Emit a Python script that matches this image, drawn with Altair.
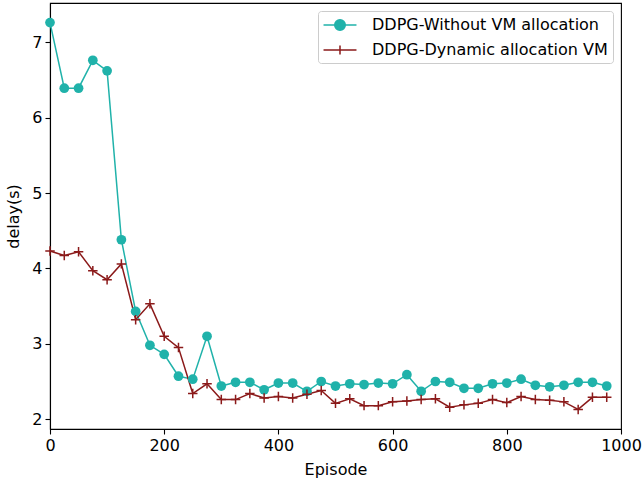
import altair as alt
import pandas as pd

episodes = list(range(0, 1000, 25))
without_vm = [7.26, 6.39, 6.39, 6.76, 6.62, 4.38, 3.43, 2.98, 2.86, 2.57,
              2.53, 3.10, 2.44, 2.49, 2.49, 2.39, 2.48, 2.48, 2.37, 2.50,
              2.44, 2.47, 2.46, 2.48, 2.47, 2.59, 2.37, 2.50, 2.49, 2.41,
              2.41, 2.47, 2.48, 2.53, 2.45, 2.43, 2.45, 2.49, 2.49, 2.44]
dynamic_vm = [4.23, 4.17, 4.22, 3.97, 3.85, 4.06, 3.32, 3.53, 3.10, 2.95,
              2.34, 2.47, 2.26, 2.26, 2.34, 2.28, 2.30, 2.28, 2.33, 2.38,
              2.21, 2.27, 2.18, 2.18, 2.23, 2.24, 2.26, 2.27, 2.16, 2.19,
              2.21, 2.26, 2.22, 2.30, 2.26, 2.25, 2.23, 2.13, 2.29, 2.29]
series_names = ["DDPG-Without VM allocation", "DDPG-Dynamic allocation VM"]
colors = ["#20B2AA", "#8B1A1A"]
x_ticks = [0, 200, 400, 600, 800, 1000]
y_ticks = [2, 3, 4, 5, 6, 7]

df = pd.DataFrame({
    "Episode": episodes * 2,
    "delay": without_vm + dynamic_vm,
    "series": [series_names[0]] * len(episodes) + [series_names[1]] * len(episodes),
})

FONT = "DejaVu Sans"
FS = 16
legend_circle = "M-2.06,0H2.06M-0.66,0A0.66,0.66 0 1,0 0.66,0A0.66,0.66 0 1,0 -0.66,0Z"
legend_cross = "M-2.06,0H2.06M0,-0.55V0.55"
cross_path = "M-1,0H1M0,-1V1"

x_enc = alt.X("Episode:Q", scale=alt.Scale(domain=[0, 1000], nice=False, zero=False),
              axis=alt.Axis(values=x_ticks, title="Episode", grid=False, format="d",
                            labelFlush=False))
y_enc = alt.Y("delay:Q", scale=alt.Scale(domain=[1.87, 7.52], nice=False, zero=False),
              axis=alt.Axis(values=y_ticks, title="delay(s)", grid=False, format="d",
                            labelFlush=False))
color_scale = alt.Scale(domain=series_names, range=colors)

leg = alt.Legend(
    title=None, orient="top-right", offset=8,
    labelFont=FONT, labelFontSize=FS, labelColor="black", labelOffset=23,
    symbolSize=256, symbolStrokeWidth=1.5, symbolOpacity=1, symbolOffset=8,
    fillColor="white", strokeColor="#cccccc", cornerRadius=3,
    padding=5, rowPadding=7, labelLimit=400,
)
color_enc = alt.Color("series:N", scale=color_scale, legend=leg)

base = alt.Chart(df)

lines = base.mark_line(strokeWidth=1.5).encode(
    x=x_enc, y=y_enc, color=color_enc, detail="series:N",
)

pts_a = base.transform_filter(alt.datum.series == series_names[0]).mark_point(
    shape="circle", filled=True, size=95, opacity=1
).encode(x=x_enc, y=y_enc, color=color_enc)

pts_b = base.transform_filter(alt.datum.series == series_names[1]).mark_point(
    shape=cross_path, filled=False, size=90, strokeWidth=1.5, opacity=1
).encode(x=x_enc, y=y_enc, color=color_enc)

# hidden carrier points (placed below the visible domain and clipped) that only feed the legend
legend_layer = base.transform_filter(alt.datum.Episode == 0).transform_calculate(
    low="-100"
).mark_point(filled=True, strokeWidth=1.5, clip=True).encode(
    x=x_enc,
    y=alt.Y("low:Q", scale=alt.Scale(domain=[1.87, 7.52], nice=False, zero=False)),
    color=color_enc,
    stroke=alt.Stroke("series:N", scale=color_scale, legend=leg),
    shape=alt.Shape("series:N", scale=alt.Scale(domain=series_names,
                                                range=[legend_circle, legend_cross]),
                    legend=leg),
)

chart = alt.layer(lines, pts_a, pts_b, legend_layer).properties(
    width=571, height=426,
    padding={"left": 50, "top": 3, "right": 21, "bottom": 54},
    autosize=alt.AutoSizeParams(type="none"),
    background="white",
).configure_view(stroke="black", strokeWidth=1.1).configure_axis(
    domainColor="black", domainWidth=1.1, tickColor="black", tickWidth=1.1, tickSize=5,
    labelFont=FONT, labelFontSize=FS, labelColor="black", labelPadding=3,
    titleFont=FONT, titleFontSize=FS, titleColor="black", titleFontWeight="normal",
).configure_axisX(titlePadding=8).configure_axisY(titlePadding=10)

chart.save("out.html", embed_options={"renderer": "svg", "actions": False})
